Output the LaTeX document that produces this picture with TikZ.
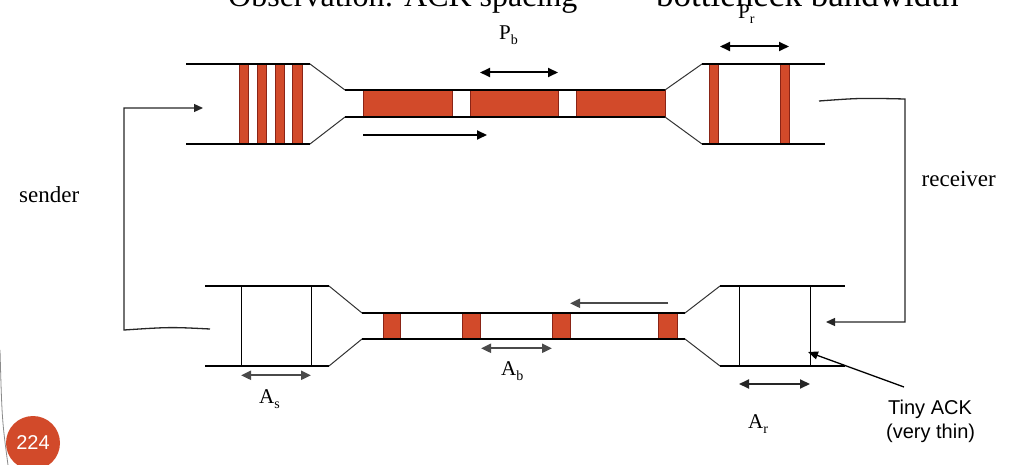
\documentclass[tikz,border=0pt]{standalone}
\usepackage{fontspec}
\setmainfont{Liberation Serif}
\setsansfont{Liberation Sans}
\usetikzlibrary{arrows.meta}
\definecolor{pktred}{HTML}{D24A2A}
\definecolor{pktedge}{HTML}{8A2416}
\definecolor{ackgrey}{HTML}{4A4A4A}
\definecolor{edgegrey}{HTML}{8A8A8A}
\tikzset{
  pipe/.style={draw=black, line width=1.3pt},
  taper/.style={draw=black!80, line width=1pt},
  pkt/.style={fill=pktred, draw=pktedge, line width=0.8pt},
  ackln/.style={draw=black, line width=1pt},
  dimarr/.style={{Triangle[length=10pt,width=9pt]}-{Triangle[length=10pt,width=9pt]}, line width=2pt, draw=#1, fill=#1},
  flow/.style={-{Triangle[length=10pt,width=9pt]}, line width=2pt, draw=#1, fill=#1},
  loopln/.style={-{Triangle[length=9pt,width=8pt]}, line width=1.3pt, draw=black!85},
  ptr/.style={-{Triangle[length=10pt,width=8pt]}, line width=1.3pt, draw=black},
  lbl/.style={font=\fontsize{21}{24}\selectfont, inner sep=0pt, anchor=base west},
  side/.style={font=\fontsize{23}{26}\selectfont, inner sep=0pt, anchor=base west},
  note/.style={font=\sffamily\fontsize{20}{24}\selectfont, inner sep=0pt, anchor=base west},
  ttl/.style={font=\fontsize{#1}{34}\selectfont, inner sep=0pt, anchor=base west},
}
\newcommand{\dimlbl}[2]{#1\raisebox{-5pt}{\fontsize{14}{14}\selectfont #2}}

\begin{document}
\begin{tikzpicture}[x=1pt,y=-1pt]
  \useasboundingbox (0,0) rectangle (1018,465);

  % title, cut by the top edge
  \begin{scope}
    \clip (0,0) rectangle (1018,20);
    \node[ttl=32] (title) at (228,7) {Observation: ACK spacing =};
    \node[ttl=35] (titleb) at (656,7) {bottleneck bandwidth};
  \end{scope}

  % data packets
  \foreach \x in {239.3,257.3,275,292.7}
    \draw[pkt] (\x,64) rectangle ++(9.5,80);
  \foreach \a/\b in {363/452.7,470.7/558.3,576/665}
    \draw[pkt] (\a,90) rectangle (\b,117);
  \foreach \x in {709.3,780}
    \draw[pkt] (\x,64) rectangle ++(9,80);

  % top pipe
  \draw[pipe] (186,64) -- (310,64) (186,144) -- (310,144);
  \draw[taper] (310,64) -- (345,90) (310,144) -- (345,117);
  \draw[pipe] (345,90) -- (665,90) (345,117) -- (665,117);
  \draw[taper] (665,90) -- (702,64) (665,117) -- (702,144);
  \draw[pipe] (702,64) -- (825,64) (702,144) -- (825,144);

  % acks
  \foreach \a/\b in {383/400.6,462.5/480.8,552.4/570,658/677.5}
    \draw[pkt] (\a,313) rectangle (\b,339);
  \foreach \x in {241,311,739,810}
    \draw[ackln] (\x,286) -- (\x,366);

  % bottom pipe
  \draw[pipe] (205,286) -- (329,286) (205,366) -- (329,366);
  \draw[taper] (329,286) -- (362,313) (329,366) -- (362,339);
  \draw[pipe] (362,313) -- (685,313) (362,339) -- (685,339);
  \draw[taper] (685,313) -- (720,286) (685,339) -- (720,366);
  \draw[pipe] (720,286) -- (845,286) (720,366) -- (845,366);

  % spacing marks
  \coordinate (pbL) at (480,72.5);  \coordinate (pbR) at (558,72.5);
  \coordinate (prL) at (720,46.5);  \coordinate (prR) at (789,46.5);
  \coordinate (abL) at (481,348.3); \coordinate (abR) at (552,348.3);
  \coordinate (asL) at (241,375.3); \coordinate (asR) at (311,375.3);
  \coordinate (arL) at (739,384);   \coordinate (arR) at (810,384);
  \draw[dimarr=black] (pbL) -- (pbR);
  \draw[dimarr=black] (prL) -- (prR);
  \draw[dimarr=ackgrey] (abL) -- (abR);
  \draw[dimarr=ackgrey] (asL) -- (asR);
  \draw[dimarr=black!85] (arL) -- (arR);

  \node[lbl] (Pb) at (499,40) {\dimlbl{P}{b}};
  \node[lbl] (Pr) at (738,19) {\dimlbl{P}{r}};
  \node[lbl] (Ab) at (501,375) {\dimlbl{A}{b}};
  \node[lbl] (As) at (259,403) {\dimlbl{A}{s}};
  \node[lbl] (Ar) at (748,428) {\dimlbl{A}{r}};

  % direction of flow
  \coordinate (dataS) at (363,135);  \coordinate (dataE) at (487,135);
  \coordinate (ackS) at (668,303.3); \coordinate (ackE) at (570,303.3);
  \draw[flow=black] (dataS) -- (dataE);
  \draw[flow=ackgrey] (ackS) -- (ackE);

  % loops at the ends
  \coordinate (sndTail) at (210,329); \coordinate (sndIn) at (203,108);
  \coordinate (rcvTail) at (819,101); \coordinate (rcvIn) at (826,322);
  \draw[loopln] (sndTail) .. controls (170,327) .. (124,330) -- (124,108) -- (sndIn);
  \draw[loopln] (rcvTail) .. controls (860,98) .. (905,99) -- (905,322) -- (rcvIn);
  \node[side] (snd) at (19,203) {sender};
  \node[side] (rcv) at (921.5,186.5) {receiver};

  % note
  \node[note] (tinyA) at (888,414) {Tiny ACK};
  \node[note] (tinyB) at (886,438) {(very thin)};
  \coordinate (ackTail) at (904,387); \coordinate (ackTip) at (808,352);
  \draw[ptr] (ackTail) -- (ackTip);

  % page badge
  \draw[edgegrey, line width=0.8pt] (0,350) .. controls (2,420) .. (8,465);
  \node[circle, fill=pktred, minimum size=54pt, inner sep=0pt, text=white,
        font=\sffamily\fontsize{20}{20}\selectfont] (page) at (33,443) {224};
\end{tikzpicture}
\end{document}
